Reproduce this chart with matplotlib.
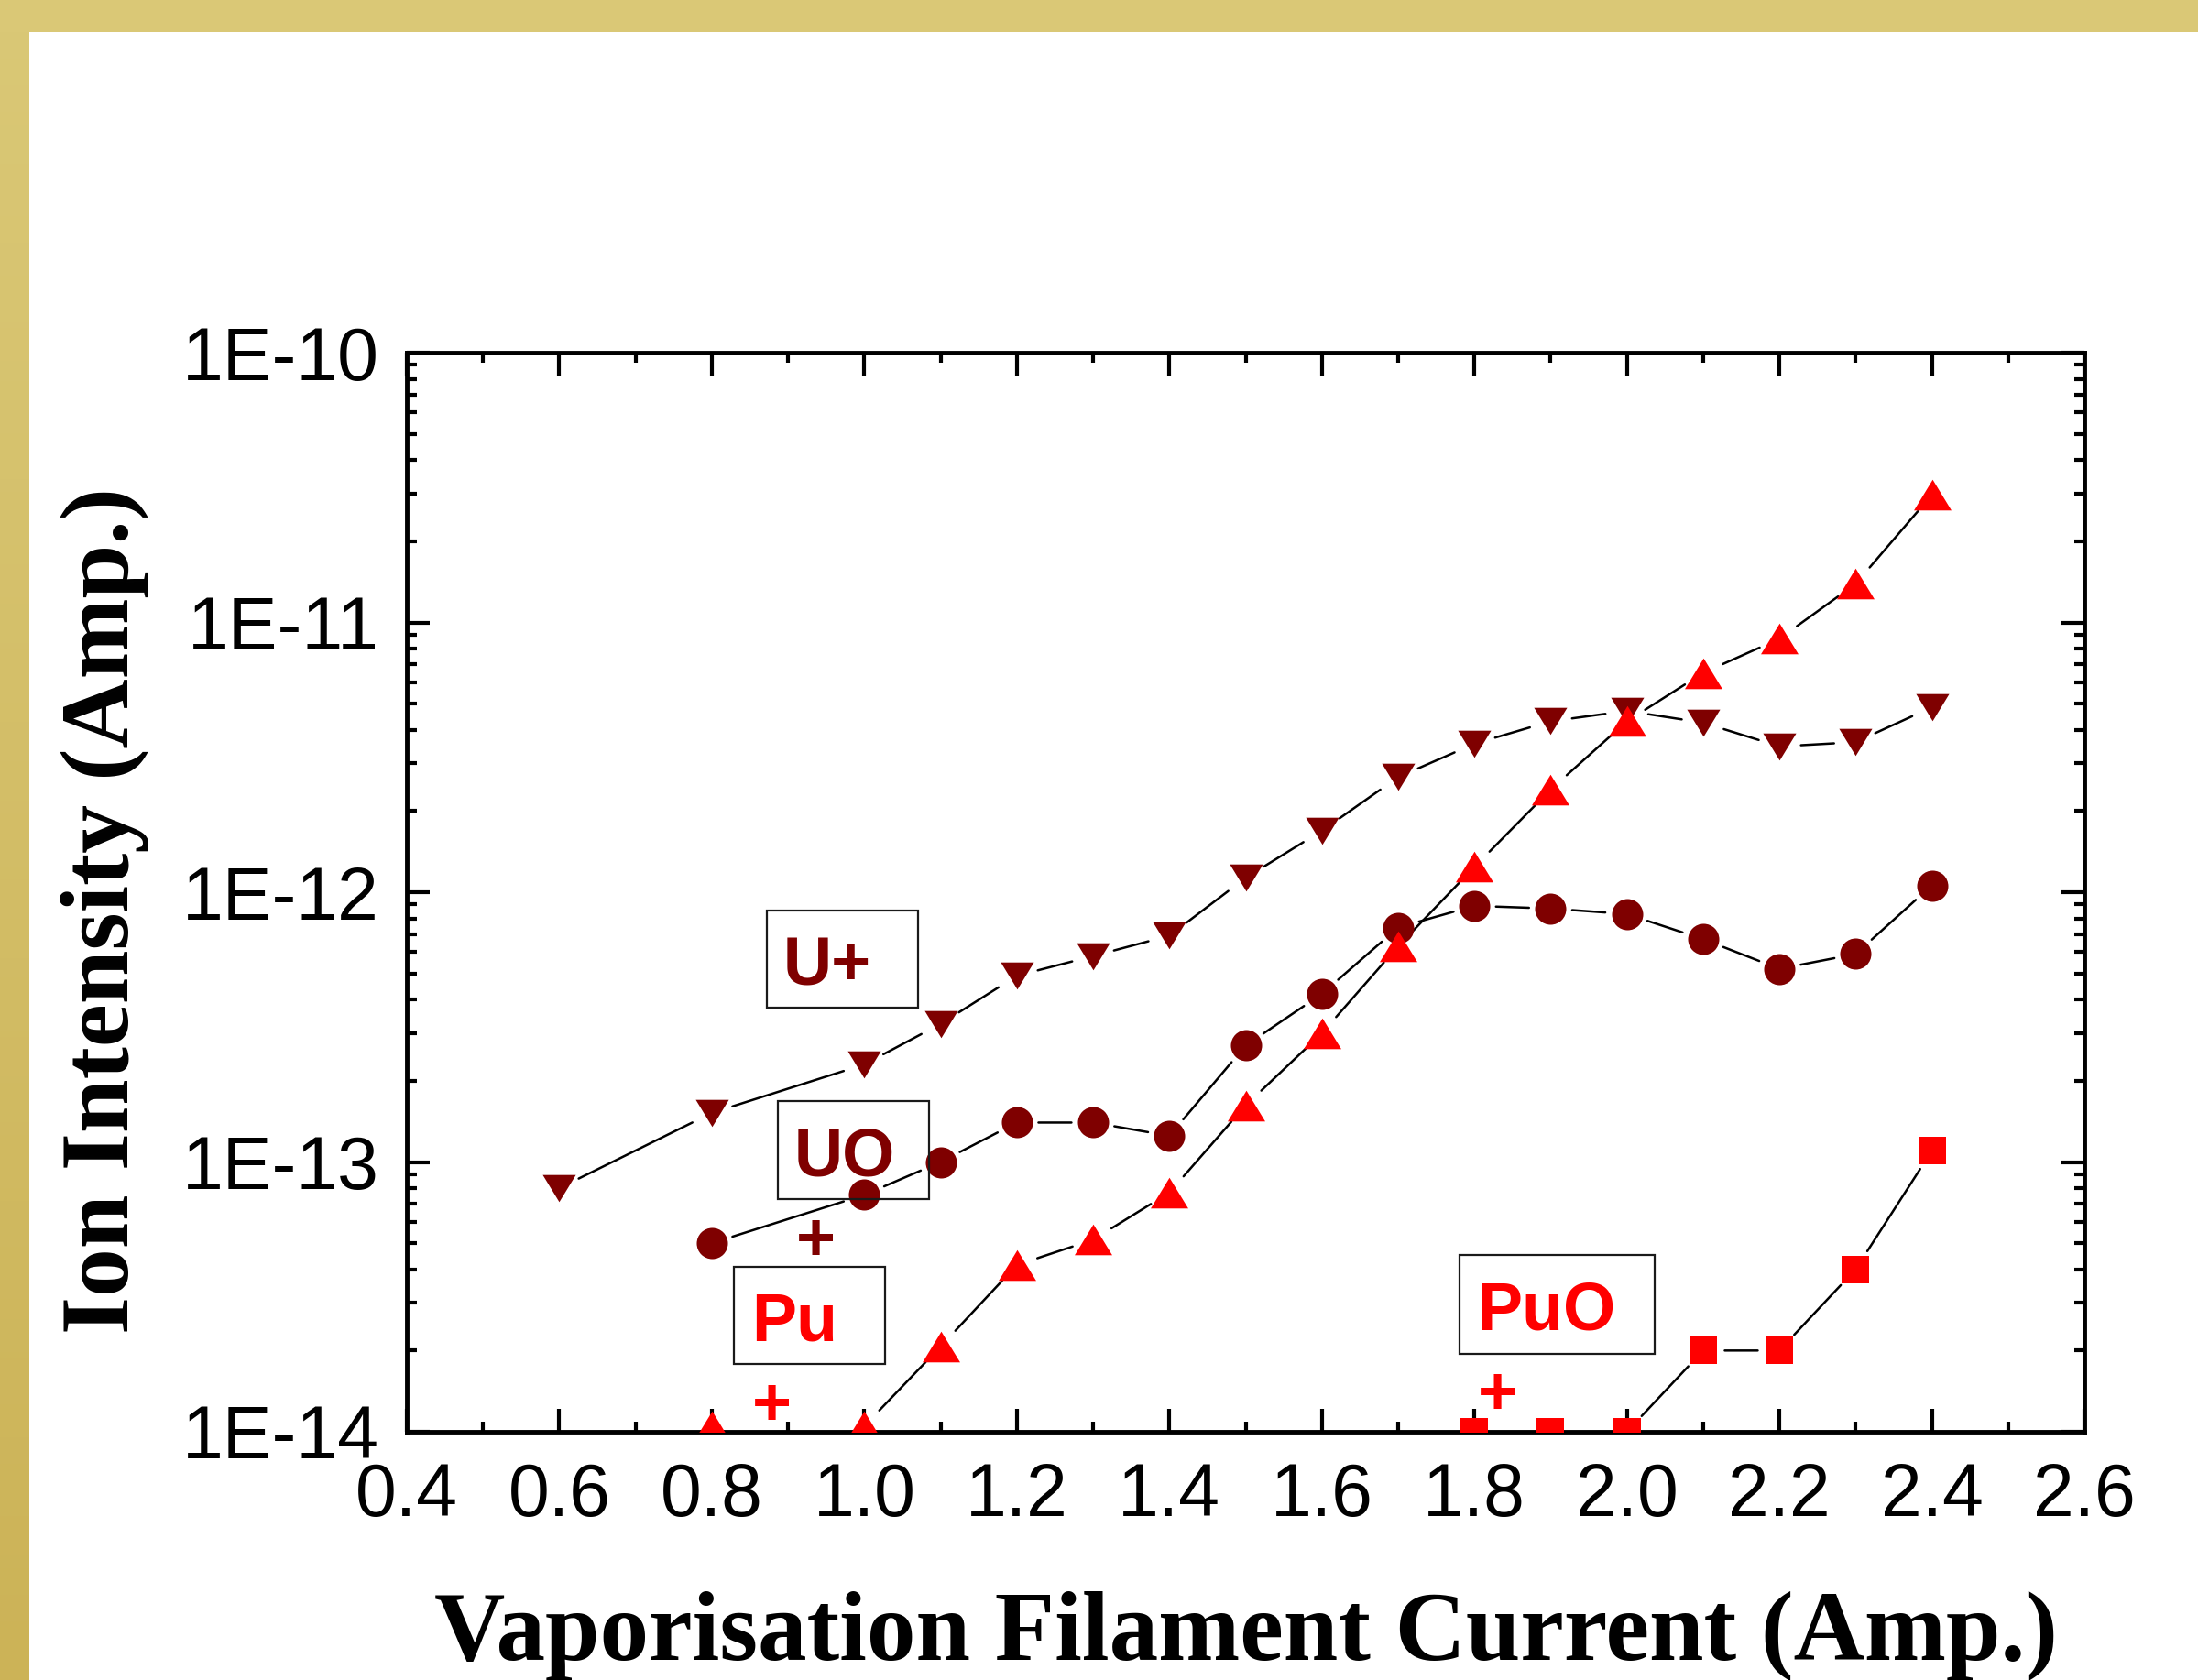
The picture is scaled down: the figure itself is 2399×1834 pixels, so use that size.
import numpy as np
import matplotlib
matplotlib.use("Agg")
import matplotlib.pyplot as plt
from matplotlib.patches import Rectangle
from matplotlib.ticker import MultipleLocator, LogLocator, FuncFormatter, NullFormatter

# --- data ---
x_uplus = [0.6, 0.8, 1.0, 1.1, 1.2, 1.3, 1.4, 1.5, 1.6, 1.7, 1.8, 1.9, 2.0, 2.1, 2.2, 2.3, 2.4]
uplus = [8.0e-14, 1.52e-13, 2.3e-13, 3.25e-13, 4.9e-13, 5.8e-13, 6.9e-13, 1.13e-12, 1.69e-12,
         2.67e-12, 3.55e-12, 4.3e-12, 4.7e-12, 4.25e-12, 3.47e-12, 3.6e-12, 4.85e-12]

x_uo = [0.8, 1.0, 1.1, 1.2, 1.3, 1.4, 1.5, 1.6, 1.7, 1.8, 1.9, 2.0, 2.1, 2.2, 2.3, 2.4]
uo = [5.0e-14, 7.55e-14, 1.0e-13, 1.4e-13, 1.4e-13, 1.25e-13, 2.7e-13, 4.2e-13, 7.4e-13,
      8.9e-13, 8.7e-13, 8.3e-13, 6.7e-13, 5.2e-13, 5.9e-13, 1.06e-12]

x_pu = [0.8, 1.0, 1.1, 1.2, 1.3, 1.4, 1.5, 1.6, 1.7, 1.8, 1.9, 2.0, 2.1, 2.2, 2.3, 2.4]
pu = [1.05e-14, 1.05e-14, 2.07e-14, 4.15e-14, 5.15e-14, 7.7e-14, 1.62e-13, 3.0e-13, 6.3e-13,
      1.24e-12, 2.4e-12, 4.3e-12, 6.5e-12, 8.7e-12, 1.39e-11, 2.97e-11]

x_puo = [1.8, 1.9, 2.0, 2.1, 2.2, 2.3, 2.4]
puo = [1e-14, 1e-14, 1e-14, 2.0e-14, 2.0e-14, 4.0e-14, 1.1e-13]

xticks = [0.4, 0.6, 0.8, 1.0, 1.2, 1.4, 1.6, 1.8, 2.0, 2.2, 2.4, 2.6]
yticks = [1e-14, 1e-13, 1e-12, 1e-11, 1e-10]

DARK = "#7f0000"
RED = "#ff0000"
SANS = "Liberation Sans"
SERIF = "Liberation Serif"
FLOOR = 1.1e-14  # points below this sit on the bottom axis

W, H = 2399, 1834
fig = plt.figure(figsize=(W / 100, H / 100), dpi=100)

# golden frame (top band + left band with a slight gradient)
fig.patches.append(Rectangle((0, 1 - 35 / H), 1, 35 / H, transform=fig.transFigure,
                             facecolor="#dac876", edgecolor="none", zorder=0))
band = fig.add_axes([0, 0, 32 / W, 1])
grad = np.linspace(0, 1, 256).reshape(-1, 1)
c_top = np.array([218, 200, 118]) / 255
c_bot = np.array([204, 179, 87]) / 255
band.imshow(c_top + grad[..., None] * (c_bot - c_top), aspect="auto")
band.axis("off")

# main axes, placed in pixels of the reference
L, T, R, B = 444, 385, 2275, 1563
ax = fig.add_axes([L / W, 1 - B / H, (R - L) / W, (B - T) / H])


def frac(px, py):
    return (px - L) / (R - L), (B - py) / (B - T)


ax.set_xlim(0.4, 2.6)
ax.set_yscale("log")
ax.set_ylim(1e-14, 1e-10)


def tri(up, ratio=0.82):
    s = 1 if up else -1
    return [(-1, -s * ratio), (1, -s * ratio), (0, s * ratio), (-1, -s * ratio)]


def connect(xs, ys, gap=17):
    # Origin-style: segments stop short of each marker
    for i in range(len(xs) - 1):
        if ys[i] < FLOOR and ys[i + 1] < FLOOR:
            continue
        ax.annotate("", xy=(xs[i + 1], ys[i + 1]), xytext=(xs[i], ys[i]),
                    arrowprops=dict(arrowstyle="-", color="black", lw=1.8,
                                    shrinkA=gap, shrinkB=gap),
                    annotation_clip=False, zorder=2)


for xs, ys in [(x_uplus, uplus), (x_uo, uo), (x_pu, pu), (x_puo, puo)]:
    connect(xs, ys)

ax.plot(x_uplus, uplus, ls="none", marker=tri(False), ms=26, color=DARK, mew=0, zorder=3)
ax.plot(x_uo, uo, ls="none", marker="o", ms=24.5, color=DARK, mew=0, zorder=3)
ax.plot(x_pu, pu, ls="none", marker=tri(True), ms=29.5, color=RED, mew=0, zorder=3)
ax.plot(x_puo, puo, ls="none", marker="s", ms=21, color=RED, mew=0, zorder=3)

# ticks and spines
ax.set_xticks(xticks)
ax.xaxis.set_minor_locator(MultipleLocator(0.1))
ax.xaxis.set_major_formatter(FuncFormatter(lambda v, p: f"{v:.1f}"))
ax.set_yticks(yticks)
ax.yaxis.set_minor_locator(LogLocator(base=10, subs=np.arange(2, 10)))
ax.yaxis.set_minor_formatter(NullFormatter())
ax.yaxis.set_major_formatter(FuncFormatter(lambda v, p: f"1E{int(round(np.log10(v)))}"))
ax.tick_params(which="both", direction="in", top=True, right=True, width=3)
ax.tick_params(which="major", length=18, labelsize=58)
ax.tick_params(which="minor", length=8)
ax.tick_params(axis="x", which="major", pad=24)
ax.tick_params(axis="y", which="major", pad=22)
for lab in ax.get_xticklabels() + ax.get_yticklabels():
    lab.set_family(SANS)
for sp in ax.spines.values():
    sp.set_linewidth(3.5)

# axis labels
ax.set_xlabel("Vaporisation Filament Current (Amp.)", fontsize=77, fontweight="bold", family=SERIF)
ax.xaxis.label.set_va("baseline")
ax.xaxis.set_label_coords(0.5, frac(0, 1812)[1])
ax.set_ylabel("Ion Intensity (Amp.)", fontsize=76, fontweight="bold", family=SERIF)
ax.yaxis.label.set_va("baseline")
ax.yaxis.set_label_coords(frac(140, 0)[0], frac(0, 994)[1])

# label boxes (pixel corners of the reference)
boxes = [
    ("U+", DARK, (837, 994, 1002, 1100), (855, 1076)),
    ("UO", DARK, (849, 1202, 1014, 1309), (867, 1283)),
    ("Pu", RED, (801, 1383, 966, 1489), (820, 1463)),
    ("PuO", RED, (1593, 1370, 1806, 1478), (1612, 1451)),
]
for txt, col, (x0, y0, x1, y1), (tx, ty) in boxes:
    fx0, fy1 = frac(x0, y1)
    fx1, fy0 = frac(x1, y0)
    ax.add_patch(Rectangle((fx0, fy1), fx1 - fx0, fy0 - fy1, transform=ax.transAxes,
                           fill=False, ec="#1a1a1a", lw=1.6, clip_on=False, zorder=4))
    ax.text(*frac(tx, ty), txt, transform=ax.transAxes, fontsize=53, fontweight="bold",
            family=SANS, color=col, ha="left", va="baseline", zorder=5)

# the detached "+" charge signs
for col, (px, py) in [(DARK, (890, 1376)), (RED, (842, 1556)), (RED, (1634, 1544))]:
    ax.text(*frac(px, py), "+", transform=ax.transAxes, fontsize=53, fontweight="bold",
            family=SANS, color=col, ha="center", va="baseline", zorder=5)

fig.savefig("out.png", dpi=100)
